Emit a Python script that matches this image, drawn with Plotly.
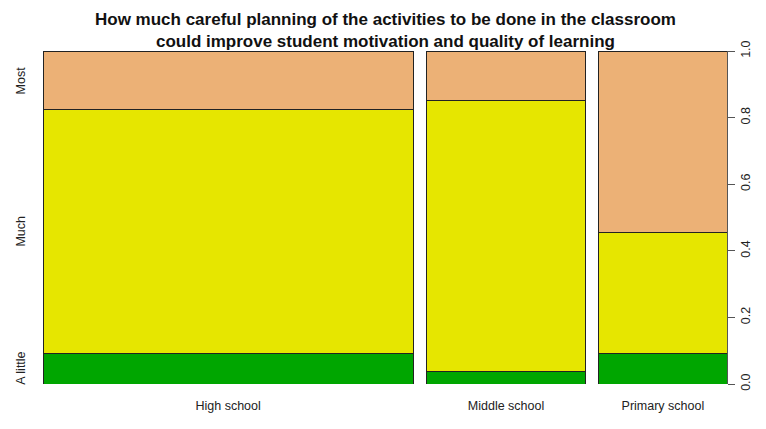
import numpy as np
import plotly.graph_objects as go

schools = ['High school', 'Middle school', 'Primary school']
school_share = [0.563, 0.242, 0.195]
levels = ['A little', 'Much', 'Most']
a_little = [0.092, 0.038, 0.091]
much = [0.732, 0.813, 0.364]
most = [0.176, 0.149, 0.545]
colors = ['#00A600', '#E6E600', '#ECB176']
title_text = ('How much careful planning of the activities to be done in the classroom<br>'
              'could improve student motivation and quality of learning')

gap = 0.02
widths = np.array(school_share)
lefts = np.concatenate([[0], np.cumsum(widths)[:-1]]) + gap * np.arange(len(widths))
centers = lefts + widths / 2

fig = go.Figure()
for name, vals, col in zip(levels, [a_little, much, most], colors):
    fig.add_trace(go.Bar(
        name=name,
        x=centers,
        y=vals,
        width=widths,
        marker=dict(color=col, line=dict(color='#222222', width=1)),
        showlegend=False,
    ))

# level labels on the left, at the midpoints of the first column
first = np.array([a_little[0], much[0], most[0]])
mids = np.cumsum(first) - first / 2
annotations = []
for lab, m in zip(levels, mids):
    annotations.append(dict(
        text=lab, xref='paper', yref='y', x=-0.032, y=m,
        textangle=-90, showarrow=False, xanchor='center', yanchor='middle',
        font=dict(size=12.5, color='#222222'),
    ))

annotations.append(dict(
    text='<b>' + title_text + '</b>',
    xref='paper', yref='paper', x=0.5, y=1, yshift=43,
    xanchor='center', yanchor='top', showarrow=False,
    font=dict(size=17, color='#111111'),
))

# page body has an 8px margin, so the figure is shrunk by that much
fig.update_layout(
    barmode='stack',
    width=758, height=421,
    margin=dict(l=35, r=39, t=43, b=45),
    plot_bgcolor='white', paper_bgcolor='white',
    font=dict(family='Liberation Sans, Arial, sans-serif', size=12.5, color='#222222'),
    annotations=annotations,
    xaxis=dict(
        range=[0, 1 + gap * (len(widths) - 1)],
        tickvals=centers, ticktext=schools, ticks='',
        showgrid=False, zeroline=False, showline=False,
        ticklabelstandoff=12, automargin=False,
    ),
    yaxis=dict(
        side='right', range=[0, 1],
        tickvals=[0, 0.2, 0.4, 0.6, 0.8, 1.0],
        ticktext=['0.0', '0.2', '0.4', '0.6', '0.8', '1.0'],
        tickangle=-90, ticks='outside', ticklen=7, tickcolor='#555555',
        showline=True, linecolor='#555555', linewidth=1,
        showgrid=False, zeroline=False, automargin=False,
    ),
)

fig.write_html('out.html')
